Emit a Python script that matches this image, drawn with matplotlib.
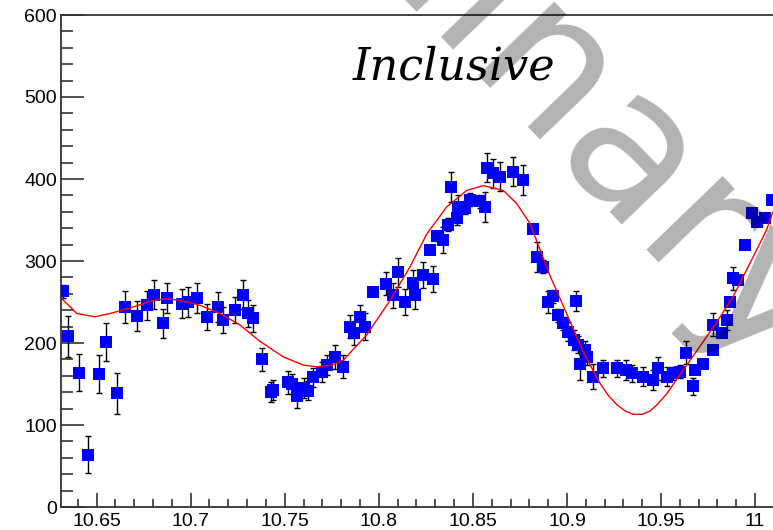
import matplotlib
matplotlib.use("Agg")
import matplotlib.pyplot as plt
from matplotlib.ticker import FixedLocator, MultipleLocator

# measured cross section points: mass (GeV), yield, uncertainty
mass = [10.6324, 10.6350, 10.6409, 10.6456, 10.6515, 10.6550, 10.6607, 10.6651,
        10.6714, 10.6767, 10.6806, 10.6855, 10.6873, 10.6953, 10.6988, 10.7032,
        10.7086, 10.7147, 10.7174, 10.7236, 10.7280, 10.7307, 10.7333, 10.7380,
        10.7427, 10.7440, 10.7519, 10.7540, 10.7564, 10.7600, 10.7625, 10.7652,
        10.7697, 10.7723, 10.7767, 10.7811, 10.7847, 10.7870, 10.7900, 10.7927,
        10.7971, 10.8038, 10.8077, 10.8104, 10.8139, 10.8183, 10.8192, 10.8236,
        10.8286, 10.8272, 10.8308, 10.8343, 10.8369, 10.8384, 10.8414, 10.8422,
        10.8458, 10.8485, 10.8538, 10.8564, 10.8573, 10.8608, 10.8644, 10.8715,
        10.8768, 10.8821, 10.8839, 10.8874, 10.8901, 10.8927, 10.8954, 10.8977,
        10.9007, 10.9048, 10.9040, 10.9060, 10.9069, 10.9096, 10.9105, 10.9140,
        10.9193, 10.9264, 10.9316, 10.9344, 10.9405, 10.9459, 10.9485, 10.9530,
        10.9565, 10.9600, 10.9632, 10.9671, 10.9680, 10.9724, 10.9777, 10.9777,
        10.9822, 10.9849, 10.9866, 10.9884, 10.9910, 10.9946, 10.9981, 11.0008,
        11.0052, 11.0088]
counts = [263, 208, 164, 64, 162, 201, 139, 244,
          233, 246, 259, 224, 255, 248, 250, 255,
          232, 244, 228, 240, 259, 236, 230, 180,
          140, 143, 152, 150, 135, 145, 142, 158,
          165, 173, 183, 171, 220, 212, 232, 220,
          262, 272, 258, 286, 250, 273, 258, 283,
          278, 313, 330, 326, 344, 390, 352, 366,
          365, 375, 373, 366, 414, 407, 403, 409,
          399, 339, 305, 293, 250, 257, 234, 224,
          214, 251, 204, 198, 175, 192, 183, 159,
          169, 169, 167, 163, 159, 155, 169, 159,
          163, 165, 188, 147, 167, 175, 192, 222,
          212, 228, 250, 279, 277, 320, 358, 348,
          352, 374]
errors = [8, 25, 23, 22, 23, 23, 25, 20,
          18, 18, 18, 18, 18, 18, 18, 18,
          16, 18, 16, 16, 18, 16, 16, 14,
          12, 12, 14, 12, 14, 12, 12, 12,
          12, 12, 15, 14, 14, 14, 14, 16,
          5, 14, 15, 18, 16, 16, 16, 16,
          16, 5, 5, 16, 8, 18, 8, 14,
          8, 8, 8, 18, 18, 18, 18, 18,
          18, 5, 18, 8, 14, 8, 8, 8,
          12, 12, 12, 10, 20, 10, 10, 15,
          10, 10, 12, 10, 12, 12, 14, 12,
          8, 8, 14, 10, 5, 5, 5, 14,
          5, 12, 5, 14, 5, 5, 5, 5,
          5, 5]

# fitted line shape
fit_mass = [10.6311, 10.6395, 10.6492, 10.6572, 10.6696, 10.6802, 10.6873, 10.6944,
            10.7050, 10.7156, 10.7262, 10.7369, 10.7493, 10.7600, 10.7670, 10.7750,
            10.7811, 10.7936, 10.8060, 10.8166, 10.8255, 10.8361, 10.8467, 10.8555,
            10.8662, 10.8733, 10.8803, 10.8850, 10.8910, 10.8998, 10.9087, 10.9175,
            10.9220, 10.9264, 10.9310, 10.9352, 10.9400, 10.9441, 10.9480, 10.9530,
            10.9618, 10.9707, 10.9795, 10.9884, 10.9972, 11.0061, 11.0095]
fit_counts = [255, 236, 232, 236, 244, 252, 254, 252,
              246, 236, 222, 202, 183, 173, 171, 173,
              179, 210, 252, 293, 333, 366, 386, 392,
              386, 370, 346, 318, 282, 236, 189, 151,
              136, 125, 117, 113, 113, 117, 125, 138,
              167, 196, 225, 257, 297, 338, 360]

xticks = [10.65, 10.70, 10.75, 10.80, 10.85, 10.90, 10.95, 11.00]
xtick_labels = ["10.65", "10.7", "10.75", "10.8", "10.85", "10.9", "10.95", "11"]
yticks = [0, 100, 200, 300, 400, 500, 600]

W, H = 773, 530
fig = plt.figure(figsize=(W / 100, H / 100), dpi=100)
ax = fig.add_axes([61 / W, 23 / H, (W - 61) / W, 492 / H])

ax.errorbar(mass, counts, yerr=errors, fmt="none", ecolor="black",
            elinewidth=1.0, capsize=2.5, capthick=1.0, zorder=2)
ax.plot(mass, counts, "s", color="#0000ff", markersize=8.5,
        markeredgewidth=0, zorder=3)
ax.plot(fit_mass, fit_counts, color="red", lw=1.0, zorder=4)

ax.set_xlim(10.6311, 11.0095)
ax.set_ylim(0, 600)

ax.xaxis.set_major_locator(FixedLocator(xticks))
ax.set_xticklabels(xtick_labels)
ax.xaxis.set_minor_locator(MultipleLocator(0.01))
ax.set_yticks(yticks)
ax.yaxis.set_minor_locator(MultipleLocator(20))

for lab in ax.get_xticklabels() + ax.get_yticklabels():
    lab.set_family("Liberation Sans")
    lab.set_fontsize(14)

ax.tick_params(axis="x", which="major", direction="in", length=10, width=1.1,
               pad=4, color="#222222", top=False)
ax.tick_params(axis="x", which="minor", direction="in", length=5.8, width=1.1,
               color="#222222", top=False)
ax.tick_params(axis="y", which="major", direction="in", length=16.5, width=1.1,
               pad=3, color="#222222", right=False)
ax.tick_params(axis="y", which="minor", direction="in", length=8.6, width=1.1,
               color="#222222", right=False)

ax.spines["right"].set_visible(False)
for side in ("left", "top", "bottom"):
    ax.spines[side].set_linewidth(1.3)
    ax.spines[side].set_color("#333333")

fig.text(353 / W, 1 - 80 / H, "Inclusive", family="DejaVu Serif",
         style="italic", fontsize=32, ha="left", va="baseline")

# watermark
fig.text(1 / W, 1 + 399 / H, "Preliminary", family="DejaVu Sans",
         fontsize=140, color="black", alpha=0.3, rotation=-46,
         rotation_mode="anchor", ha="left", va="baseline", zorder=10)

fig.savefig("out.png", dpi=100)
